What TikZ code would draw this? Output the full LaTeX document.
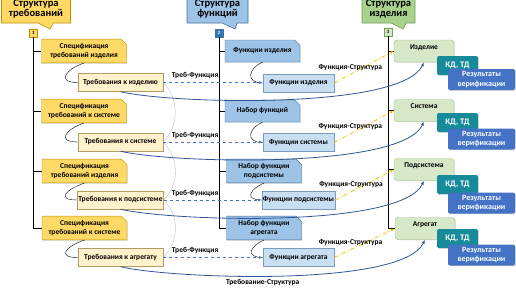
\documentclass[tikz,border=0pt]{standalone}
\usepackage{fontspec}
\setmainfont{Carlito}
\usepackage{tikz}
\usetikzlibrary{arrows.meta, shapes.misc, shapes.callouts, shadows}
\usepackage{xcolor}
\definecolor{reqgold}{RGB}{255,217,102}
\definecolor{reqdark}{RGB}{191,144,0}
\definecolor{reqpale}{RGB}{255,242,204}
\definecolor{reqedge}{RGB}{180,155,100}
\definecolor{funblue}{RGB}{157,195,230}
\definecolor{fundark}{RGB}{65,113,156}
\definecolor{funpale}{RGB}{200,222,242}
\definecolor{funsq}{RGB}{46,117,182}
\definecolor{prodgreen}{RGB}{169,209,142}
\definecolor{proddark}{RGB}{112,160,80}
\definecolor{prodpale}{RGB}{214,232,200}
\definecolor{kdteal}{RGB}{23,139,153}
\definecolor{resblue}{RGB}{68,114,196}
\definecolor{linkblue}{RGB}{47,85,151}
\definecolor{amber}{RGB}{255,192,0}

\begin{document}
\begin{tikzpicture}[x=1pt, y=-1pt,
  every node/.style={font=\fontsize{7.5}{9}\selectfont\bfseries, align=center, inner sep=1pt},
  head/.style={rectangle callout, draw, line width=0.6pt, minimum height=28, callout pointer width=15pt,
    font=\fontsize{10.5}{10.5}\selectfont\bfseries},
  num/.style={draw, minimum size=8, inner sep=0pt, font=\fontsize{5}{5}\selectfont\bfseries},
  shade/.style={drop shadow={shadow xshift=0.7pt, shadow yshift=-0.7pt, opacity=0.35}},
  snip/.style={chamfered rectangle, chamfered rectangle corners=north east, chamfered rectangle xsep=2.2pt},
  spec/.style={snip, shade, draw=reqdark, fill=reqgold, minimum width=85, minimum height=22},
  req/.style={draw=reqedge, fill=reqpale, minimum width=85, minimum height=18},
  fun/.style={snip, shade, draw=fundark, fill=funblue, minimum width=75, minimum height=22},
  funsub/.style={draw=fundark!70, fill=funpale, minimum width=71, minimum height=18},
  prod/.style={shade, draw=proddark!70, fill=prodpale, rounded corners=3pt, minimum width=60,
    minimum height=22, text height=5pt, text depth=9pt},
  kd/.style={shade, fill=kdteal, text=white, rounded corners=2pt, minimum width=41, minimum height=19,
    font=\fontsize{8.5}{9}\selectfont\bfseries},
  res/.style={shade, fill=resblue, text=white, rounded corners=2pt, minimum width=67, minimum height=21,
    font=\fontsize{8}{9.5}\selectfont\bfseries},
  tree/.style={line width=0.9pt},
  hook/.style={thin},
  tf/.style={resblue, dashed, thick, -{Latex[length=4pt]}},
  fs/.style={amber, thick, dash pattern=on 4pt off 2pt on 1pt off 2pt, -{Latex[length=4pt]}},
  rs/.style={linkblue, line width=0.8pt, -{Latex[length=4pt]}},
  trace/.style={gray!50, thin},
  lbl/.style={text=black, font=\fontsize{7.5}{8}\selectfont\bfseries, inner sep=1pt}
]
  \useasboundingbox (0,0) rectangle (516,290);

  % column headers
  \node[head, fill=reqgold, draw=reqdark, minimum width=69, callout absolute pointer={(50,29)}] (hreq) at (36,9) {Структура\\требований};
  \node[head, fill=funblue, draw=fundark, minimum width=61, callout absolute pointer={(235,29)}] (hfun) at (217.5,9) {Структура\\функций};
  \node[head, fill=prodgreen, draw=proddark, minimum width=53, callout absolute pointer={(403,29)}] (hprod) at (388.5,9) {Структура\\изделия};

  \node[num, fill=reqgold, draw=reqdark] (num1) at (33.5,33) {1};
  \node[num, fill=funsq, draw=fundark, text=white] (num2) at (219,33) {2};
  \node[num, fill=prodpale, draw=proddark] (num3) at (388,32) {3};

  % requirements
  \node[spec] (spec1) at (84,51) {Спецификация\\требований изделия};
  \node[spec] (spec2) at (84,111) {Спецификация\\требований к системе};
  \node[spec] (spec3) at (84.5,171) {Спецификация\\требований изделия};
  \node[spec] (spec4) at (84.5,228) {Спецификация\\требований к системе};
  \node[req] (req1) at (120.5,82.5) {Требования к изделию};
  \node[req] (req2) at (120.5,142) {Требования к системе};
  \node[req] (req3) at (120.5,200) {Требования к подсистеме};
  \node[req] (req4) at (120.5,257.5) {Требования к агрегату};

  % functions
  \node[fun] (fun1) at (262.5,51) {Функции изделия};
  \node[fun] (fun2) at (262.5,111) {Набор функций};
  \node[fun] (fun3) at (264,171) {Набор функции\\подсистемы};
  \node[fun] (fun4) at (264,228) {Набор функции\\агрегата};
  \node[funsub] (funsub1) at (298.5,83) {Функции изделия};
  \node[funsub] (funsub2) at (298.5,142.5) {Функции системы};
  \node[funsub] (funsub3) at (298.5,200) {Функции подсистемы};
  \node[funsub] (funsub4) at (298.5,257.5) {Функции агрегата};

  % product
  \node[prod] (prod1) at (424,51) {Изделие};
  \node[prod] (prod2) at (424,110.5) {Система};
  \node[prod] (prod3) at (424,169.5) {Подсистема};
  \node[prod] (prod4) at (425,228.5) {Агрегат};
  \foreach \i/\y/\r in {1/65.5/79.5, 2/122.5/139, 3/184.5/203, 4/238.5/255} {
    \node[kd] (kd\i) at (457.5,\y) {КД, ТД};
    \node[res] (res\i) at (481.5,\r) {Результаты\\верификации};
  }

  % trees
  \draw[tree] (num1.south) |- (spec4.west);
  \draw[tree] (num2.south) |- (fun4.west);
  \draw[tree] (num3.south) |- (prod4.west);
  \foreach \i in {1,2,3} {
    \draw[tree] (num1 |- spec\i.west) -- (spec\i.west);
    \draw[tree] (num2 |- fun\i.west) -- (fun\i.west);
    \draw[tree] (num3 |- prod\i.west) -- (prod\i.west);
  }

  % decomposition hooks
  \foreach \i in {1,...,4} {
    \draw[hook] (spec\i.south) .. controls +(-18,6) and +(-22,0) .. (req\i.west);
    \draw[hook] (fun\i.south) .. controls +(-14,6) and +(-18,0) .. (funsub\i.west);
  }

  % traces between requirements
  \draw[trace] (req1.east) .. controls +(16,16) and +(16,-16) .. (req2.east);
  \draw[trace] (req2.east) .. controls +(16,16) and +(16,-16) .. (req3.east);
  \draw[trace] (req3.east) .. controls +(16,16) and +(16,-16) .. (req4.east);

  % links
  \foreach \i in {1,...,4} {
    \draw[tf] (req\i.east) -- (req\i.east -| funsub\i.west) node[lbl, pos=.32, above=2pt] (tfl\i) {Треб-Функция};
    \draw[fs] (funsub\i.east) -- (prod\i.west) node[lbl, pos=.27, above=2.5pt] (fsl\i) {Функция-Структура};
  }
  \draw[rs] (req1.south) .. controls +(50,12) and +(-23,48) .. (prod1.south);
  \draw[rs] (req2.south) .. controls +(50,12) and +(-23,48) .. (prod2.south);
  \draw[rs] (req3.south) .. controls +(50,12) and +(-23,48) .. (prod3.south);
  \draw[rs] (req4.south) .. controls +(50,12) and +(-23,48) .. (prod4.south)
    node[lbl, pos=.45, below=2pt] (rsl) {Требование-Структура};
\end{tikzpicture}
\end{document}
